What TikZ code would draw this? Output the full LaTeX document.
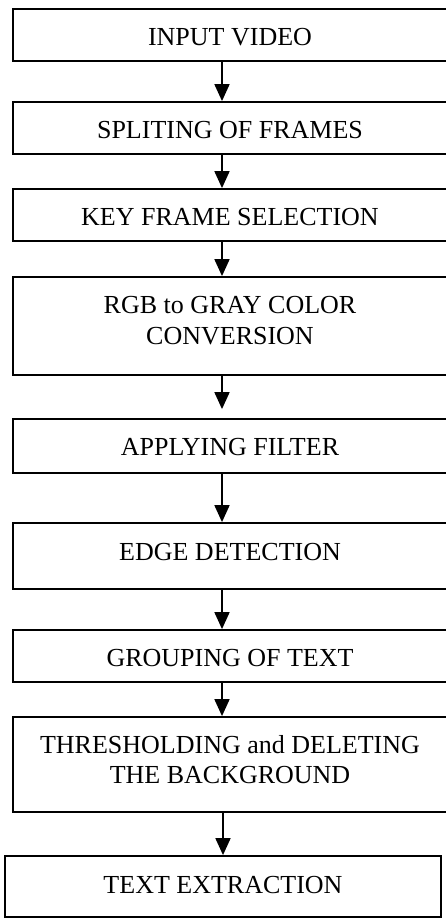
\documentclass[tikz,border=0pt]{standalone}
\usepackage{fontspec}
\setmainfont{Liberation Serif}
\usetikzlibrary{arrows.meta}
\begin{document}
\begin{tikzpicture}[x=1pt,y=-1pt,
  box/.style={draw=black,line width=1.8pt,rectangle,inner sep=0pt,fill=none},
  lbl/.style={inner sep=0pt,align=center,font=\fontsize{26}{30}\selectfont,anchor=base},
  arr/.style={draw=black,line width=1.8pt,-{Triangle[width=15pt,length=17pt]}}]
\useasboundingbox (0,0) rectangle (445,918);
% boxes
\node[box,minimum width=434pt,minimum height=52pt] (b1) at (230,35) {};
\node[box,minimum width=434pt,minimum height=52pt] (b2) at (230,128) {};
\node[box,minimum width=434pt,minimum height=52pt] (b3) at (230,215) {};
\node[box,minimum width=434pt,minimum height=98pt] (b4) at (230,326) {};
\node[box,minimum width=434pt,minimum height=54pt] (b5) at (230,446) {};
\node[box,minimum width=434pt,minimum height=66pt] (b6) at (230,556) {};
\node[box,minimum width=434pt,minimum height=52pt] (b7) at (230,656) {};
\node[box,minimum width=434pt,minimum height=95pt] (b8) at (230,764.5) {};
\node[box,minimum width=436pt,minimum height=61pt] (b9) at (223,886.5) {};
% texts
\node[lbl] (t1) at (230,45) {INPUT VIDEO};
\node[lbl] (t2) at (230,138) {SPLITING OF FRAMES};
\node[lbl] (t3) at (230,225) {KEY FRAME SELECTION};
\node[lbl] (t4a) at (230,313) {RGB to GRAY COLOR};
\node[lbl] (t4b) at (230,344) {CONVERSION};
\node[lbl] (t5) at (230,455) {APPLYING FILTER};
\node[lbl] (t6) at (230,560) {EDGE DETECTION};
\node[lbl] (t7) at (230,666) {GROUPING OF TEXT};
\node[lbl] (t8a) at (230,753) {THRESHOLDING and DELETING};
\node[lbl] (t8b) at (230,783) {THE BACKGROUND};
\node[lbl] (t9) at (223,893) {TEXT EXTRACTION};
% connectors
\draw[arr] ([xshift=-8pt]b1.south) -- ([xshift=-8pt]b2.north);
\draw[arr] ([xshift=-8pt]b2.south) -- ([xshift=-8pt]b3.north);
\draw[arr] ([xshift=-8pt]b3.south) -- ([xshift=-8pt]b4.north);
\draw[arr] ([xshift=-8pt]b4.south) -- ([xshift=-8pt,yshift=9pt]b5.north);
\draw[arr] ([xshift=-8pt]b5.south) -- ([xshift=-8pt]b6.north);
\draw[arr] ([xshift=-8pt]b6.south) -- ([xshift=-8pt]b7.north);
\draw[arr] ([xshift=-8pt]b7.south) -- ([xshift=-8pt]b8.north);
\draw[arr] ([xshift=-7pt]b8.south) -- (b9.north);
\end{tikzpicture}
\end{document}
